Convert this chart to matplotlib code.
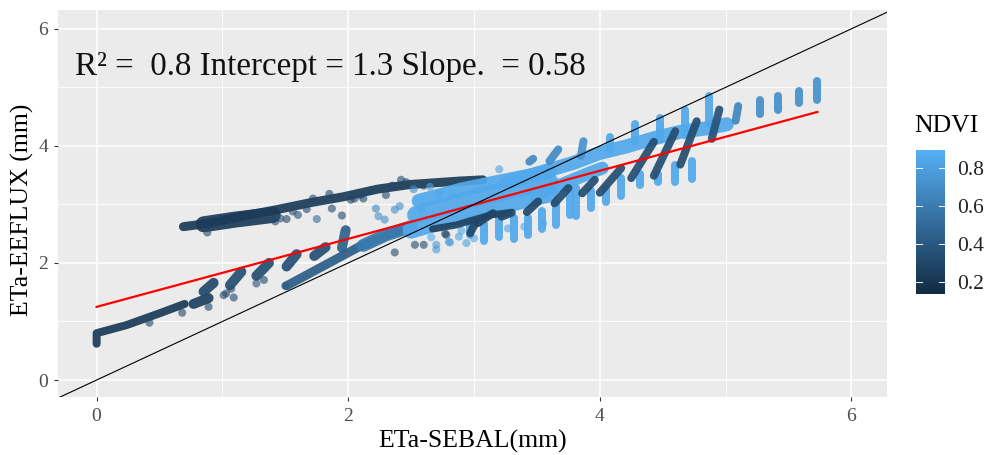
"""
plot.py - ETa-SEBAL vs ETa-EEFLUX scatter with NDVI colour scale.
Dense runs of points are kept as (start, end) streaks, loose points as x/y lists.
"""

import numpy as np
import matplotlib
matplotlib.use("Agg")
import matplotlib.pyplot as plt
from matplotlib.colors import LinearSegmentedColormap, Normalize

# ── Data ──────────────────────────────────────────────────────────────────────
x_ticks = [0, 2, 4, 6]
y_ticks = [0, 2, 4, 6]
ndvi_ticks = [0.2, 0.4, 0.6, 0.8]
ndvi_min, ndvi_max = 0.137, 0.895

fit_x = [0, 5.73]
fit_y = [1.25, 4.58]
one_to_one = [-0.4, 6.5]

# short runs of overlapping points
streak_x0 = [5.73, 5.58, 5.42, 5.27, 5.10, 4.87, 4.68, 4.48, 4.28, 4.08, 3.87,
             4.73, 4.60, 4.46, 4.32, 4.17, 4.05, 3.93, 3.81, 3.76, 3.65, 3.54,
             3.43, 3.32, 3.20, 3.08, 2.97, 3.60, 3.44]
streak_y0 = [5.10, 4.93, 4.86, 4.78, 4.68, 4.85, 4.61, 4.48, 4.37, 4.15, 4.08,
             3.74, 3.67, 3.52, 3.52, 3.45, 3.26, 3.23, 3.28, 3.28, 3.01, 2.89,
             2.77, 2.77, 2.77, 2.66, 2.73, 3.74, 3.73]
streak_x1 = [5.73, 5.58, 5.42, 5.27, 5.08, 4.87, 4.68, 4.48, 4.28, 4.08, 3.85,
             4.73, 4.60, 4.46, 4.32, 4.17, 4.05, 3.93, 3.81, 3.76, 3.65, 3.54,
             3.43, 3.32, 3.20, 3.08, 2.97, 3.67, 3.47]
streak_y1 = [4.79, 4.74, 4.62, 4.55, 4.43, 4.38, 4.18, 4.12, 4.07, 3.95, 3.83,
             3.44, 3.39, 3.39, 3.34, 3.15, 3.04, 2.94, 2.81, 2.82, 2.65, 2.58,
             2.47, 2.41, 2.45, 2.38, 2.47, 3.94, 3.78]
streak_ndvi = [0.72, 0.70, 0.70, 0.70, 0.66, 0.84, 0.84, 0.84, 0.84, 0.84, 0.72,
               0.84, 0.84, 0.84, 0.84, 0.84, 0.84, 0.84, 0.84, 0.84, 0.84, 0.84,
               0.84, 0.84, 0.84, 0.84, 0.84, 0.68, 0.68]

dark_x0 = [4.89, 4.64, 4.43, 4.25, 4.00, 3.86, 3.64, 3.42, 3.22, 2.97, 3.03,
           0.77, 0.85, 1.06, 1.27, 1.51, 1.73, 1.95, 1.51, 2.09]
dark_y0 = [4.12, 3.68, 3.49, 3.45, 3.20, 3.19, 3.02, 2.87, 2.79, 2.51, 2.68,
           1.30, 1.51, 1.62, 1.78, 1.94, 2.12, 2.26, 1.61, 2.28]
dark_x1 = [4.95, 4.77, 4.60, 4.43, 4.17, 3.96, 3.75, 3.51, 3.30, 3.01, 3.15,
           0.89, 0.93, 1.15, 1.37, 1.59, 1.82, 1.98, 2.09, 2.40]
dark_y1 = [4.62, 4.42, 4.25, 4.07, 3.62, 3.42, 3.28, 3.05, 2.86, 2.68, 2.85,
           1.40, 1.66, 1.85, 2.00, 2.15, 2.27, 2.56, 2.28, 2.55]
dark_ndvi = [0.36, 0.33, 0.33, 0.33, 0.33, 0.32, 0.32, 0.30, 0.30, 0.30, 0.28,
             0.26, 0.30, 0.34, 0.34, 0.34, 0.34, 0.45, 0.42, 0.52]

# long bands of points
low_band_x = [0, 0, 0.24, 0.50, 0.70]
low_band_y = [0.62, 0.80, 0.94, 1.14, 1.30]
low_band_ndvi = 0.22

upper_band_x = [0.69, 0.90, 1.16, 1.43, 1.70, 1.96, 2.23, 2.49, 2.89, 3.07]
upper_band_y = [2.62, 2.68, 2.80, 2.91, 3.03, 3.13, 3.26, 3.34, 3.40, 3.42]
upper_wedge_x = [0.85, 1.10, 1.40]
upper_wedge_y = [2.66, 2.74, 2.82]
upper_band_ndvi = 0.23

ridge_x = [3.26, 3.52, 3.79, 4.00, 4.21, 4.43, 4.64, 4.85, 5.01]
ridge_y = [3.37, 3.54, 3.71, 3.88, 3.99, 4.13, 4.24, 4.30, 4.37]
ridge_low_x = [3.55, 3.72, 3.90, 4.02]
ridge_low_y = [3.22, 3.36, 3.52, 3.62]
mass_top_x = [2.56, 2.91, 3.18, 3.60]
mass_top_y = [3.06, 3.26, 3.38, 3.56]
mass_mid_x = [2.54, 2.85, 3.12, 3.35, 3.60]
mass_mid_y = [2.82, 3.02, 3.17, 3.28, 3.38]
mass_low_x = [2.50, 2.78, 3.05, 3.31, 3.60]
mass_low_y = [2.56, 2.74, 2.91, 3.03, 3.18]
mass_ndvi = 0.84

under_x = [2.67, 2.86, 3.13, 3.28]
under_y = [2.58, 2.65, 2.82, 2.86]
under_ndvi = 0.27

side_x = [2.12, 2.30, 2.50]
side_y = [2.30, 2.48, 2.62]
side_ndvi = 0.58

# loose points
loose_x = [0.88, 1.01, 1.03, 1.09, 1.07, 0.89, 0.42, 0.68, 1.27, 1.33, 1.42, 1.51,
           1.56, 1.67, 1.75, 1.87, 1.95, 1.50, 2.22, 2.24, 2.29, 2.37, 2.41, 2.37,
           2.53, 2.60, 2.70, 2.70, 2.66, 2.78, 2.81, 3.20, 2.77, 2.80, 2.94, 3.27,
           1.60, 1.46, 2.05, 3.00, 2.90, 2.10, 2.02, 2.18, 2.30, 2.35, 2.46, 2.52,
           2.60, 2.72, 2.58, 1.72, 1.85, 2.12, 2.42, 2.65, 2.88, 3.40, 3.48, 3.55]
loose_y = [2.52, 1.45, 1.48, 1.41, 1.56, 1.25, 0.98, 1.15, 1.65, 1.71, 2.71, 2.75,
           2.88, 2.92, 2.75, 2.93, 2.81, 1.61, 2.93, 2.80, 2.74, 2.91, 2.97, 2.18,
           2.31, 2.31, 2.31, 2.23, 2.44, 2.48, 2.35, 3.60, 2.50, 2.36, 2.34, 2.59,
           2.82, 2.76, 3.10, 2.42, 2.55, 3.16, 3.08, 3.24, 3.16, 3.32, 3.38, 3.26,
           3.32, 3.18, 2.92, 3.10, 3.18, 3.10, 3.42, 3.30, 2.45, 2.62, 3.10, 2.68]
loose_ndvi = [0.30, 0.30, 0.30, 0.30, 0.30, 0.30, 0.30, 0.30, 0.35, 0.30, 0.30, 0.30,
              0.30, 0.30, 0.50, 0.30, 0.30, 0.30, 0.65, 0.70, 0.70, 0.70, 0.70, 0.30,
              0.30, 0.30, 0.75, 0.75, 0.85, 0.30, 0.80, 0.80, 0.30, 0.75, 0.80, 0.80,
              0.35, 0.35, 0.30, 0.85, 0.85, 0.30, 0.28, 0.30, 0.30, 0.30, 0.30, 0.70,
              0.30, 0.80, 0.75, 0.28, 0.28, 0.30, 0.30, 0.80, 0.80, 0.85, 0.85, 0.85]

# ── Style ─────────────────────────────────────────────────────────────────────
plt.rcParams["font.family"] = ["Liberation Serif", "DejaVu Serif"]

W, H = 988, 455
cmap = LinearSegmentedColormap.from_list("gg", ["#132B43", "#56B1F7"])
norm = Normalize(ndvi_min, ndvi_max)


def col(v):
    return cmap(norm(v))


def band(ax, xs, ys, v, px):
    ax.plot(xs, ys, color=col(v), lw=px * 0.72, alpha=0.92,
            solid_capstyle="round", solid_joinstyle="round", zorder=2)


fig = plt.figure(figsize=(W / 100, H / 100), dpi=100)
ax = fig.add_axes([58 / W, 1 - 397 / H, (887 - 58) / W, (397 - 9.5) / H])
ax.set_facecolor("#EBEBEB")
ax.set_xlim(-0.307, 6.283)
ax.set_ylim(-0.29, 6.33)
for s in ax.spines.values():
    s.set_visible(False)

# ggplot style grid
ax.set_xticks(x_ticks)
ax.set_yticks(y_ticks)
ax.set_xticks([1, 3, 5], minor=True)
ax.set_yticks([1, 3, 5], minor=True)
ax.grid(True, which="major", color="white", lw=1.1, zorder=0)
ax.grid(True, which="minor", color="white", lw=0.6, zorder=0)
ax.set_axisbelow(True)
ax.tick_params(which="minor", length=0)
ax.tick_params(which="major", length=3, width=0.8, color="#333333",
               labelcolor="#4D4D4D", labelsize=14)
ax.tick_params(axis="x", which="major", pad=5)
ax.tick_params(axis="y", which="major", pad=4)

# ── Points ────────────────────────────────────────────────────────────────────
band(ax, low_band_x, low_band_y, low_band_ndvi, 8)
band(ax, upper_band_x, upper_band_y, upper_band_ndvi, 9)
band(ax, upper_wedge_x, upper_wedge_y, upper_band_ndvi, 16)

ax.scatter(loose_x, loose_y, c=loose_ndvi, cmap=cmap, norm=norm, s=34, alpha=0.6,
           linewidths=0, zorder=2)

for x0, y0, x1, y1, v in zip(dark_x0, dark_y0, dark_x1, dark_y1, dark_ndvi):
    if x1 < 3:
        band(ax, [x0, x1], [y0, y1], v, 10 if x1 < 2 else 9)

band(ax, side_x, side_y, side_ndvi, 13)
band(ax, mass_low_x, mass_low_y, mass_ndvi, 17)
band(ax, mass_mid_x, mass_mid_y, mass_ndvi, 18)
band(ax, mass_top_x, mass_top_y, mass_ndvi, 14)
band(ax, ridge_x, ridge_y, mass_ndvi, 14)
band(ax, ridge_low_x, ridge_low_y, mass_ndvi, 13)

for x0, y0, x1, y1, v in zip(streak_x0, streak_y0, streak_x1, streak_y1, streak_ndvi):
    band(ax, [x0, x1], [y0, y1], v, 8)

band(ax, under_x, under_y, under_ndvi, 7)
for x0, y0, x1, y1, v in zip(dark_x0, dark_y0, dark_x1, dark_y1, dark_ndvi):
    if x1 >= 3:
        band(ax, [x0, x1], [y0, y1], v, 8)

# ── Lines and text ────────────────────────────────────────────────────────────
ax.plot(fit_x, fit_y, color="#FF0000", lw=1.6, zorder=4)
ax.plot(one_to_one, one_to_one, color="black", lw=0.8, zorder=5)

ax.text(-0.175, 5.36, "R² =  0.8 Intercept = 1.3 Slope.  = 0.58", fontsize=23.8,
        ha="left", va="center", color="#111111", zorder=6)

fig.text(473 / W, 1 - 441 / H, "ETa-SEBAL(mm)", fontsize=18.5, ha="center", va="center")
fig.text(22 / W, 1 - 210 / H, "ETa-EEFLUX (mm)", fontsize=18.5, rotation=90,
         ha="center", va="center")

# ── NDVI colour bar ───────────────────────────────────────────────────────────
cax = fig.add_axes([916 / W, 1 - 294 / H, 29 / W, 144 / H])
grad = np.linspace(ndvi_min, ndvi_max, 256).reshape(-1, 1)
cax.imshow(grad, cmap=cmap, norm=norm, origin="lower", aspect="auto",
           extent=[0, 1, ndvi_min, ndvi_max])
cax.set_xticks([])
cax.set_yticks(ndvi_ticks)
cax.yaxis.tick_right()
cax.tick_params(axis="y", length=0, labelsize=15.5, labelcolor="#222222", pad=9)
cax.set_yticklabels([f"{t:.1f}" for t in ndvi_ticks])
for t in ndvi_ticks:
    cax.plot([0, 0.2], [t, t], color="white", lw=0.7)
    cax.plot([0.8, 1], [t, t], color="white", lw=0.7)
cax.set_xlim(0, 1)
cax.set_ylim(ndvi_min, ndvi_max)
for s in cax.spines.values():
    s.set_visible(False)
fig.text(914 / W, 1 - 126 / H, "NDVI", fontsize=18.5, ha="left", va="center")

fig.savefig("out.png", dpi=100)
